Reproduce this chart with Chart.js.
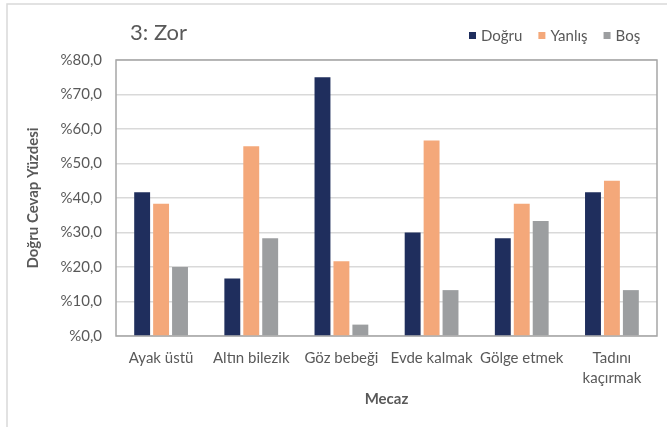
<!DOCTYPE html>
<html lang="tr">
<head>
<meta charset="utf-8">
<title>3: Zor</title>
<script src="https://cdn.jsdelivr.net/npm/chart.js@4.4.1/dist/chart.umd.min.js"></script>
<style>
  html, body { margin: 0; padding: 0; background: #ffffff; }
  #wrap { width: 667px; height: 427px; position: relative; }
</style>
</head>
<body>
<div id="wrap"><canvas id="c" width="667" height="427"></canvas></div>
<script>
// Categories (metaphors) and answer shares in percent
const categories = ['Ayak üstü', 'Altın bilezik', 'Göz bebeği', 'Evde kalmak', 'Gölge etmek', ['Tadını', 'kaçırmak']];
const dogru  = [41.7, 16.7, 75.0, 30.0, 28.3, 41.7];
const yanlis = [38.3, 55.0, 21.7, 56.7, 38.3, 45.0];
const bos    = [20.0, 28.3,  3.3, 13.3, 33.3, 13.3];
const seriesNames = ['Doğru', 'Yanlış', 'Boş'];
const yTickLabels = ['%0,0', '%10,0', '%20,0', '%30,0', '%40,0', '%50,0', '%60,0', '%70,0', '%80,0'];
const chartTitle = '3: Zor';
const xTitle = 'Mecaz';
const yTitle = 'Doğru Cevap Yüzdesi';

const colors = ['#1f2e5d', '#f4a87a', '#9c9ea0'];
const textColor = '#595959';
const fontFamily = 'Lato, "Open Sans", "Liberation Sans", sans-serif';

// Outer frame, plot box, title and legend
const decorations = {
  id: 'decorations',
  beforeDraw(chart) {
    const ctx = chart.ctx;
    ctx.save();
    ctx.strokeStyle = '#d9d9d9';
    ctx.lineWidth = 1.5;
    ctx.beginPath();
    ctx.moveTo(7, 427);
    ctx.lineTo(7, 4);
    ctx.lineTo(667, 4);
    ctx.stroke();
    ctx.restore();
  },
  beforeDatasetsDraw(chart) {
    const { ctx, chartArea: a } = chart;
    ctx.save();
    ctx.strokeStyle = '#a6a6a6';
    ctx.lineWidth = 1.5;
    ctx.strokeRect(a.left, a.top, a.right - a.left, a.bottom - a.top);
    ctx.restore();
  },
  afterDraw(chart) {
    const ctx = chart.ctx;
    ctx.save();
    ctx.fillStyle = textColor;
    ctx.textBaseline = 'middle';
    ctx.textAlign = 'left';
    ctx.font = '22px ' + fontFamily;
    ctx.fillText(chartTitle, 130, 33);

    ctx.font = '15px ' + fontFamily;
    let x = 469;
    chart.data.datasets.forEach((ds) => {
      ctx.fillStyle = ds.backgroundColor;
      ctx.fillRect(x, 32, 7, 7);
      x += 12;
      ctx.fillStyle = textColor;
      ctx.fillText(ds.label, x, 36);
      x += ctx.measureText(ds.label).width + 16;
    });
    ctx.restore();
  }
};

new Chart(document.getElementById('c'), {
  type: 'bar',
  data: {
    labels: categories,
    datasets: [
      { label: seriesNames[0], data: dogru,  backgroundColor: colors[0] },
      { label: seriesNames[1], data: yanlis, backgroundColor: colors[1] },
      { label: seriesNames[2], data: bos,    backgroundColor: colors[2] }
    ]
  },
  options: {
    responsive: false,
    animation: false,
    devicePixelRatio: 1,
    layout: { padding: { top: 60, right: 10, left: 0, bottom: 0 } },
    datasets: {
      bar: { categoryPercentage: 0.63, barPercentage: 0.84 }
    },
    plugins: {
      legend: { display: false },
      title: { display: false },
      tooltip: { enabled: false }
    },
    scales: {
      x: {
        grid: { display: false, drawTicks: false },
        border: { display: false },
        ticks: {
          color: textColor,
          font: { family: fontFamily, size: 15, lineHeight: 1.33 },
          padding: 12,
          maxRotation: 0,
          autoSkip: false
        },
        title: {
          display: true,
          text: xTitle,
          color: textColor,
          font: { family: fontFamily, size: 15, weight: 'bold' },
          padding: { top: 4, bottom: 19 }
        },
        afterFit(scale) { scale.height = 91; }
      },
      y: {
        min: 0,
        max: 80,
        ticks: {
          stepSize: 10,
          color: textColor,
          font: { family: fontFamily, size: 15 },
          padding: 14,
          callback: (value, index) => yTickLabels[index]
        },
        grid: { color: '#d9d9d9', lineWidth: 1.5, drawTicks: false },
        border: { display: false },
        title: {
          display: true,
          text: yTitle,
          color: textColor,
          font: { family: fontFamily, size: 15, weight: 'bold' },
          padding: { top: 24, bottom: 0 }
        },
        afterFit(scale) { scale.width = 116; }
      }
    }
  },
  plugins: [decorations]
});
</script>
</body>
</html>
